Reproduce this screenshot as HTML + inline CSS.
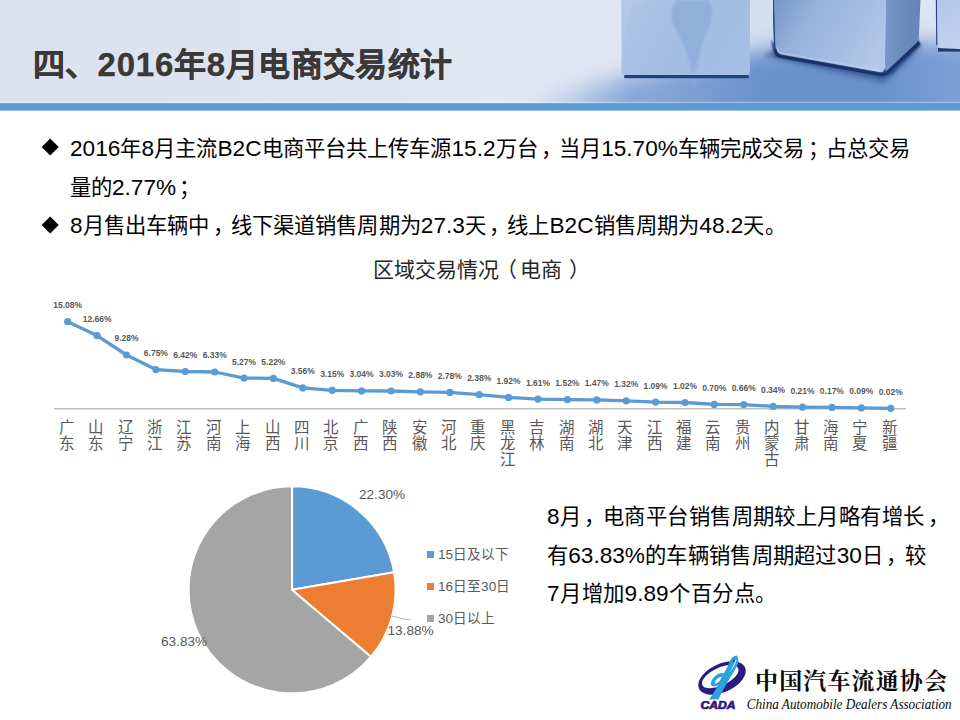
<!DOCTYPE html>
<html lang="zh-CN"><head><meta charset="utf-8"><title>2016年8月电商交易统计</title>
<style>
html,body{margin:0;padding:0;background:#fff}
body{width:960px;height:720px;position:relative;overflow:hidden;font-family:"Liberation Sans",sans-serif;color:#000}
.abs{position:absolute;white-space:nowrap}
.j{text-align:justify;text-align-last:justify}
.n{font-size:106%}
.c{position:relative;left:3px}
#title .n{font-size:103%;letter-spacing:0.8px}
#hdr{position:absolute;left:0;top:0;width:960px;height:111px}
#title{left:33px;top:45px;width:419px;font-size:32px;font-weight:bold;line-height:40px;color:#3b3838;-webkit-text-stroke:0.4px #3b3838}
.bl{font-size:21.33px;line-height:30px;color:#000;letter-spacing:0}
.bu{position:absolute;width:12.4px;height:12.4px;background:#000;transform:rotate(45deg)}
#ctitle{left:0;width:956px;text-align:center;top:258px;font-size:21px;line-height:24px;color:#262626}
.dl{position:absolute;width:40px;text-align:center;font-size:8.5px;font-weight:bold;line-height:10px;color:#595959;white-space:nowrap}
.cl{position:absolute;top:420.4px;width:24px;text-align:center;font-size:15.5px;line-height:15.8px;color:#595959}
.pl{font-size:13.6px;line-height:16px;color:#595959}
.lg{font-size:13.6px;line-height:16px;color:#595959}
.lgb{position:absolute;width:7px;height:7px}
.pp{font-size:21.33px;line-height:30px;color:#000;left:547px;letter-spacing:0}
</style></head><body>
<svg id="hdr" width="960" height="111" viewBox="0 0 960 111">
<defs>
<linearGradient id="gbg" x1="0" x2="960" y1="0" y2="0" gradientUnits="userSpaceOnUse">
<stop offset="0" stop-color="#dde3ee"/><stop offset="0.35" stop-color="#dee4ef"/><stop offset="0.52" stop-color="#e2e8f3"/><stop offset="0.64" stop-color="#dfe6f3"/><stop offset="0.79" stop-color="#d3def0"/><stop offset="1" stop-color="#dde6f4"/>
</linearGradient>
<linearGradient id="gfl" x1="500" x2="960" y1="0" y2="0" gradientUnits="userSpaceOnUse">
<stop offset="0" stop-color="#dfe5f0" stop-opacity="0"/><stop offset="0.1" stop-color="#c9d6ec" stop-opacity="0.8"/><stop offset="0.2" stop-color="#a9bfe1"/><stop offset="0.28" stop-color="#8aa9d8"/><stop offset="0.43" stop-color="#7c9ed2"/><stop offset="0.56" stop-color="#6b92ca"/><stop offset="0.82" stop-color="#6a91cb"/><stop offset="1" stop-color="#7c9fd4"/>
</linearGradient>
<linearGradient id="gflv" x1="595.8" y1="70.5" x2="604.2" y2="105.5" gradientUnits="userSpaceOnUse">
<stop offset="0" stop-color="#fff" stop-opacity="0"/><stop offset="1" stop-color="#fff" stop-opacity="1"/>
</linearGradient>
<filter id="bm" x="-10%" y="-60%" width="120%" height="220%"><feGaussianBlur stdDeviation="10"/></filter>
<mask id="mfl" maskUnits="userSpaceOnUse" x="0" y="0" width="960" height="111"><path d="M420,130 L500,108 L560,92 L620,78 L700,63 L760,51 L820,45 L880,43 L990,42 L990,140 Z" fill="#fff" filter="url(#bm)"/></mask>
<linearGradient id="gc1" x1="622" y1="0" x2="750" y2="77" gradientUnits="userSpaceOnUse">
<stop offset="0" stop-color="#adc4e6"/><stop offset="0.5" stop-color="#a4bde2"/><stop offset="1" stop-color="#a5c0e4"/>
</linearGradient>
<linearGradient id="gc2" x1="776" y1="0" x2="880" y2="60" gradientUnits="userSpaceOnUse">
<stop offset="0" stop-color="#7695ca"/><stop offset="0.3" stop-color="#97b1db"/><stop offset="0.7" stop-color="#a6bee3"/><stop offset="1" stop-color="#b4c9e9"/>
</linearGradient>
<linearGradient id="gc2s" x1="886" y1="0" x2="921" y2="0" gradientUnits="userSpaceOnUse">
<stop offset="0" stop-color="#7898c9"/><stop offset="0.3" stop-color="#6e8ec0"/><stop offset="1" stop-color="#6585b8"/>
</linearGradient>
<linearGradient id="gc3" x1="937" y1="0" x2="960" y2="48" gradientUnits="userSpaceOnUse">
<stop offset="0" stop-color="#b2c7e8"/><stop offset="1" stop-color="#c2d4ee"/>
</linearGradient>
<filter id="b0" x="-5%" y="-100%" width="110%" height="300%"><feGaussianBlur stdDeviation="0.7"/></filter>
<filter id="b1" x="-20%" y="-50%" width="140%" height="200%"><feGaussianBlur stdDeviation="1.2"/></filter>
<filter id="b2" x="-20%" y="-80%" width="140%" height="260%"><feGaussianBlur stdDeviation="2.5"/></filter>
</defs>
<rect x="0" y="0" width="960" height="104" fill="url(#gbg)"/>
<rect x="480" y="20" width="480" height="84" fill="url(#gfl)" mask="url(#mfl)"/>
<!-- cube1 -->
<path d="M621.5,0 L750,0 L750,72 Q750,75.5 746,75.5 L625.5,75.5 Q621.5,75.5 621.5,72 Z" fill="url(#gc1)"/>
<path d="M676,0 L708,0 Q714,10 711,22 Q706,34 702,44 Q699,58 696,70 L693,74 Q690,66 687,54 Q683,42 677,32 Q670,20 672,10 Z" fill="#8facd9" opacity="0.85" filter="url(#b1)"/>
<path d="M690,80 L697,80 L694,88 Z" fill="#8facd9" opacity="0.5" filter="url(#b1)"/>
<path d="M624,0 L650,0 Q640,6 634,4 Q628,14 626,30 L624,40 Z" fill="#b9cdea" opacity="0.6" filter="url(#b1)"/>
<rect x="624" y="75" width="125" height="3.2" rx="1.5" fill="#23437c" filter="url(#b0)"/>
<!-- cube2 shadow -->
<path d="M771,40 L775,57 L882,77.5 L891,75 L921,45 L917,38 L884,68 L780,50 Z" fill="#1b346a" filter="url(#b1)"/>
<path d="M764,56 L884,83 L926,44 L900,60 L884,70 L776,48 Z" fill="#3a5e9c" opacity="0.75" filter="url(#b2)"/>
<path d="M773.4,0 L775,49 Q775.6,54 781,55" fill="none" stroke="#27467f" stroke-width="2" filter="url(#b0)"/>
<path d="M774,0 L775.5,48 Q776,53 781,54.5 L879,72 Q884,73 885,68 L886,0 Z" fill="url(#gc2)"/>
<path d="M886,0 L885,68 Q885,72 888,69.5 L916,43.5 Q918.5,41 918.8,37 L920.5,0 Z" fill="url(#gc2s)"/>
<path d="M777,47 Q777,52 782,53 L880,70.5" fill="none" stroke="#c6d8f0" stroke-width="1.4" opacity="0.45" filter="url(#b0)"/>
<path d="M775.2,50 Q776,55.5 781,56.5 L880,74.5 Q885,75.5 888.5,72 L918.5,43.5" fill="none" stroke="#1a3366" stroke-width="3" stroke-linecap="round" filter="url(#b0)"/>
<!-- cube3 -->
<rect x="938" y="48" width="26" height="3.6" fill="#1f3a70" filter="url(#b0)"/>
<path d="M936.6,0 L937,45" fill="none" stroke="#27467f" stroke-width="1.6"/>
<path d="M937,0 L937.5,44 Q937.5,48 941.5,48.2 L960,49 L960,0 Z" fill="url(#gc3)"/>
<rect x="0" y="101.6" width="960" height="2" fill="#ffffff" opacity="0.3"/>
<rect x="0" y="103.2" width="960" height="7.4" fill="#5b9bd5"/>
</svg>

<div class="abs j" id="title">四、<span class="n">2016</span>年<span class="n">8</span>月电商交易统计</div>
<div class="bu" style="left:44.2px;top:141.2px"></div>
<div class="abs bl j" style="left:70px;top:133.5px;width:840px"><span class="n">2016</span>年<span class="n">8</span>月主流<span class="n">B2C</span>电商平台共上传车源<span class="n">15.2</span>万台<span class="c">，</span>当月<span class="n">15.70%</span>车辆完成交易<span class="c">；</span>占总交易</div>
<div class="abs bl j" style="left:70px;top:172.5px;width:126px">量的<span class="n">2.77%</span><span class="c">；</span></div>
<div class="bu" style="left:44.2px;top:218.9px"></div>
<div class="abs bl j" style="left:70px;top:211.2px;width:715.5px"><span class="n">8</span>月售出车辆中<span class="c">，</span>线下渠道销售周期为<span class="n">27.3</span>天<span class="c">，</span>线上<span class="n">B2C</span>销售周期为<span class="n">48.2</span>天。</div>
<div class="abs" id="ctitle">区域交易情况<span style="position:relative;left:-3px">（</span>电商<span style="position:relative;left:7px">）</span></div>
<svg class="abs" style="left:0;top:0" width="960" height="720" viewBox="0 0 960 720">
<line x1="54" y1="408.7" x2="906" y2="408.7" stroke="#bfbfbf" stroke-width="1.5"/>
<polyline points="67.7,321.7 97.1,335.6 126.5,355.0 155.9,369.6 185.3,371.5 214.7,372.0 244.1,378.1 273.4,378.4 302.8,387.9 332.2,390.3 361.6,390.9 391.0,391.0 420.4,391.8 449.8,392.4 479.2,394.7 508.6,397.4 538.0,399.1 567.4,399.7 596.8,399.9 626.2,400.8 655.6,402.1 685.0,402.5 714.3,404.4 743.7,404.6 773.1,406.4 802.5,407.2 831.9,407.4 861.3,407.9 890.7,408.3" fill="none" stroke="#5b9bd5" stroke-width="3.3" stroke-linejoin="round" stroke-linecap="round"/>
<g fill="#5b9bd5"><circle cx="67.7" cy="321.7" r="3.6"/><circle cx="97.1" cy="335.6" r="3.6"/><circle cx="126.5" cy="355.0" r="3.6"/><circle cx="155.9" cy="369.6" r="3.6"/><circle cx="185.3" cy="371.5" r="3.6"/><circle cx="214.7" cy="372.0" r="3.6"/><circle cx="244.1" cy="378.1" r="3.6"/><circle cx="273.4" cy="378.4" r="3.6"/><circle cx="302.8" cy="387.9" r="3.6"/><circle cx="332.2" cy="390.3" r="3.6"/><circle cx="361.6" cy="390.9" r="3.6"/><circle cx="391.0" cy="391.0" r="3.6"/><circle cx="420.4" cy="391.8" r="3.6"/><circle cx="449.8" cy="392.4" r="3.6"/><circle cx="479.2" cy="394.7" r="3.6"/><circle cx="508.6" cy="397.4" r="3.6"/><circle cx="538.0" cy="399.1" r="3.6"/><circle cx="567.4" cy="399.7" r="3.6"/><circle cx="596.8" cy="399.9" r="3.6"/><circle cx="626.2" cy="400.8" r="3.6"/><circle cx="655.6" cy="402.1" r="3.6"/><circle cx="685.0" cy="402.5" r="3.6"/><circle cx="714.3" cy="404.4" r="3.6"/><circle cx="743.7" cy="404.6" r="3.6"/><circle cx="773.1" cy="406.4" r="3.6"/><circle cx="802.5" cy="407.2" r="3.6"/><circle cx="831.9" cy="407.4" r="3.6"/><circle cx="861.3" cy="407.9" r="3.6"/><circle cx="890.7" cy="408.3" r="3.6"/></g>
<path d="M292.10,589.80 L371.10,656.67 A103.50,103.50 0 1 1 292.10,486.30 Z" fill="#a5a5a5" stroke="#fff" stroke-width="2" stroke-linejoin="round"/><path d="M292.10,589.80 L292.10,486.30 A103.50,103.50 0 0 1 394.11,572.33 Z" fill="#5b9bd5" stroke="#fff" stroke-width="2" stroke-linejoin="round"/><path d="M292.10,589.80 L394.11,572.33 A103.50,103.50 0 0 1 371.10,656.67 Z" fill="#ed7d31" stroke="#fff" stroke-width="2" stroke-linejoin="round"/>
<polyline points="392,616 404,619 411,620" fill="none" stroke="#a6a6a6" stroke-width="0.8"/>
</svg>
<div class="dl" style="left:47.7px;top:300.1px">15.08%</div><div class="dl" style="left:77.1px;top:314.0px">12.66%</div><div class="dl" style="left:106.5px;top:333.4px">9.28%</div><div class="dl" style="left:135.9px;top:348.0px">6.75%</div><div class="dl" style="left:165.3px;top:349.9px">6.42%</div><div class="dl" style="left:194.7px;top:350.4px">6.33%</div><div class="dl" style="left:224.1px;top:356.5px">5.27%</div><div class="dl" style="left:253.4px;top:356.8px">5.22%</div><div class="dl" style="left:282.8px;top:366.3px">3.56%</div><div class="dl" style="left:312.2px;top:368.7px">3.15%</div><div class="dl" style="left:341.6px;top:369.3px">3.04%</div><div class="dl" style="left:371.0px;top:369.4px">3.03%</div><div class="dl" style="left:400.4px;top:370.2px">2.88%</div><div class="dl" style="left:429.8px;top:370.8px">2.78%</div><div class="dl" style="left:459.2px;top:373.1px">2.38%</div><div class="dl" style="left:488.6px;top:375.8px">1.92%</div><div class="dl" style="left:518.0px;top:377.5px">1.61%</div><div class="dl" style="left:547.4px;top:378.1px">1.52%</div><div class="dl" style="left:576.8px;top:378.3px">1.47%</div><div class="dl" style="left:606.2px;top:379.2px">1.32%</div><div class="dl" style="left:635.6px;top:380.5px">1.09%</div><div class="dl" style="left:665.0px;top:380.9px">1.02%</div><div class="dl" style="left:694.3px;top:382.8px">0.70%</div><div class="dl" style="left:723.7px;top:383.0px">0.66%</div><div class="dl" style="left:753.1px;top:384.8px">0.34%</div><div class="dl" style="left:782.5px;top:385.6px">0.21%</div><div class="dl" style="left:811.9px;top:385.8px">0.17%</div><div class="dl" style="left:841.3px;top:386.3px">0.09%</div><div class="dl" style="left:870.7px;top:386.7px">0.02%</div>
<div class="cl" style="left:54.8px">广<br>东</div><div class="cl" style="left:84.2px">山<br>东</div><div class="cl" style="left:113.6px">辽<br>宁</div><div class="cl" style="left:143.0px">浙<br>江</div><div class="cl" style="left:172.4px">江<br>苏</div><div class="cl" style="left:201.8px">河<br>南</div><div class="cl" style="left:231.2px">上<br>海</div><div class="cl" style="left:260.6px">山<br>西</div><div class="cl" style="left:289.9px">四<br>川</div><div class="cl" style="left:319.3px">北<br>京</div><div class="cl" style="left:348.7px">广<br>西</div><div class="cl" style="left:378.1px">陕<br>西</div><div class="cl" style="left:407.5px">安<br>徽</div><div class="cl" style="left:436.9px">河<br>北</div><div class="cl" style="left:466.3px">重<br>庆</div><div class="cl" style="left:495.7px">黑<br>龙<br>江</div><div class="cl" style="left:525.1px">吉<br>林</div><div class="cl" style="left:554.5px">湖<br>南</div><div class="cl" style="left:583.9px">湖<br>北</div><div class="cl" style="left:613.3px">天<br>津</div><div class="cl" style="left:642.7px">江<br>西</div><div class="cl" style="left:672.1px">福<br>建</div><div class="cl" style="left:701.4px">云<br>南</div><div class="cl" style="left:730.8px">贵<br>州</div><div class="cl" style="left:760.2px">内<br>蒙<br>古</div><div class="cl" style="left:789.6px">甘<br>肃</div><div class="cl" style="left:819.0px">海<br>南</div><div class="cl" style="left:848.4px">宁<br>夏</div><div class="cl" style="left:877.8px">新<br>疆</div>
<div class="abs pl" style="left:359px;top:487.2px">22.30%</div>
<div class="abs pl" style="left:387.5px;top:623px">13.88%</div>
<div class="abs pl" style="left:161px;top:634px">63.83%</div>
<div class="lgb" style="left:427px;top:551px;background:#5b9bd5"></div>
<div class="lgb" style="left:427px;top:583px;background:#ed7d31"></div>
<div class="lgb" style="left:427px;top:615px;background:#a5a5a5"></div>
<div class="abs lg" style="left:438px;top:547px">15日及以下</div>
<div class="abs lg" style="left:438px;top:579px">16日至30日</div>
<div class="abs lg" style="left:438px;top:611px">30日以上</div>
<div class="abs pp j" style="top:502px;width:398.5px"><span class="n">8</span>月<span class="c">，</span>电商平台销售周期较上月略有增长<span class="c">，</span></div>
<div class="abs pp j" style="top:540.5px;width:378.7px">有<span class="n">63.83%</span>的车辆销售周期超过<span class="n">30</span>日<span class="c">，</span>较</div>
<div class="abs pp j" style="top:579.3px;width:229px"><span class="n">7</span>月增加<span class="n">9.89</span>个百分点。</div>
<svg class="abs" style="left:0;top:0" width="960" height="720" viewBox="0 0 960 720" role="img" aria-label="CADA 中国汽车流通协会 China Automobile Dealers Association"><title>中国汽车流通协会 China Automobile Dealers Association</title>
<text x="755" y="689" font-family="'Liberation Serif','Noto Serif CJK SC',serif" font-weight="bold" font-size="23" fill="#0a0a0a" textLength="192" lengthAdjust="spacing">中国汽车流通协会</text>
<text x="746.7" y="708.5" font-family="'Liberation Serif','Noto Serif CJK SC',serif" font-style="italic" font-size="15" fill="#0a0a0a" textLength="205" lengthAdjust="spacingAndGlyphs">China Automobile Dealers Association</text>
<g>
<path fill="#2b1b7c" fill-rule="evenodd" transform="rotate(-25 722 678)" d="M696.6,678 a25.4,14.2 0 1 0 50.8,0 a25.4,14.2 0 1 0 -50.8,0 Z M701.2,676 a19.8,8.8 0 1 1 39.6,0 a19.8,8.8 0 1 1 -39.6,0 Z"/>
<path fill="#2ba2dc" d="M736.8,655.6 C733.5,655.8 731.2,658 729.8,661.2 C728,665.6 726.2,669.6 723.8,673.4 C721.6,672.6 718.4,673.4 715.6,675.8 C711.6,679.2 709.6,683.4 711.4,685.4 C712.8,687 715.4,686.6 717.8,685.2 C715.4,690 712.2,695.2 709,699.6 L718.4,699.2 C721.2,693.6 724.4,687.6 727.8,681.6 C731.6,675 735.6,669.4 738,663.8 C738.8,661 738.4,657.6 736.8,655.6 Z M721.8,677 C720.6,679.6 718.8,682.2 716.6,683.2 C714.8,684 714.4,682.6 715.4,680.8 C716.8,678.4 719.6,676.4 721.8,677 Z"/>
<path fill="#ffffff" opacity="0.85" d="M735.6,659.4 C734.2,663.6 732,668 729.6,672.2 C732.6,668.6 735.2,664.4 736.6,660.4 Z"/>
<circle cx="733.9" cy="661" r="0.9" fill="#1d2a6e"/>
<text x="700.4" y="709.2" font-family="'Liberation Sans',sans-serif" font-weight="bold" font-style="italic" font-size="10.2" fill="#2b1b7c" stroke="#2b1b7c" stroke-width="0.7" textLength="35" lengthAdjust="spacingAndGlyphs">CADA</text>
</g>

</svg>
</body></html>
